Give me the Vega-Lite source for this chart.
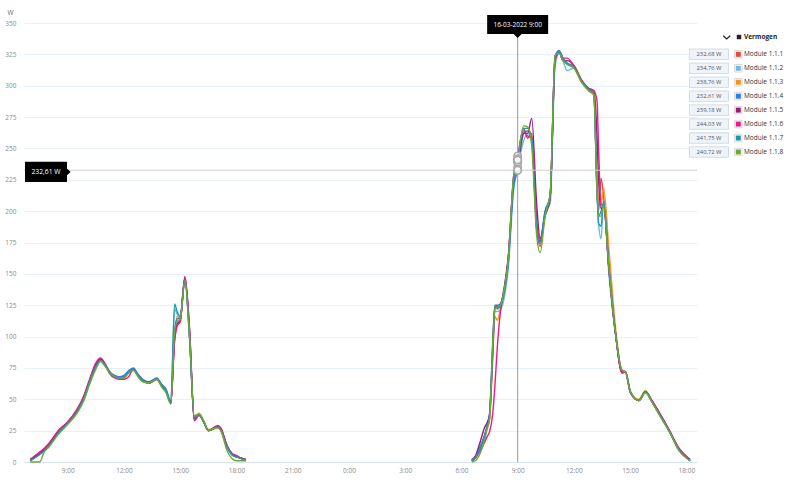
{
  "width": 673,
  "height": 439,
  "autosize": {"type": "none"},
  "padding": {"left": 24, "top": 23, "right": 103, "bottom": 21},
  "config": {"view": {"stroke": null}, "font": "Open Sans"},
  "resolve": {"scale": {"y": "independent"}, "axis": {"y": "independent"}},
  "layer": [
    {
      "layer": [
        {
          "data": {"values": [
            {"t":"2022-03-15T07:00","d":1,"m1":2,"m2":1,"m3":1,"m4":2,"m5":1,"m6":2,"m7":1,"m8":0},
            {"t":"2022-03-15T07:30","d":1,"m1":7,"m2":6,"m3":6,"m4":7,"m5":7,"m6":8,"m7":6,"m8":0},
            {"t":"2022-03-15T07:45","d":1,"m1":9,"m2":9,"m3":9,"m4":10,"m5":10,"m6":11,"m7":9,"m8":8},
            {"t":"2022-03-15T08:00","d":1,"m1":14,"m2":13,"m3":13,"m4":14,"m5":14,"m6":15,"m7":13,"m8":12},
            {"t":"2022-03-15T08:30","d":1,"m1":24,"m2":23,"m3":24,"m4":24,"m5":25,"m6":25,"m7":23,"m8":22},
            {"t":"2022-03-15T09:00","d":1,"m1":31,"m2":31,"m3":31,"m4":32,"m5":32,"m6":32,"m7":31,"m8":30},
            {"t":"2022-03-15T09:30","d":1,"m1":41,"m2":40,"m3":40,"m4":41,"m5":42,"m6":42,"m7":40,"m8":39},
            {"t":"2022-03-15T09:50","d":1,"m1":50,"m2":49,"m3":49,"m4":51,"m5":51,"m6":52,"m7":50,"m8":48},
            {"t":"2022-03-15T10:10","d":1,"m1":64,"m2":63,"m3":63,"m4":65,"m5":65,"m6":66,"m7":64,"m8":62},
            {"t":"2022-03-15T10:30","d":1,"m1":77,"m2":76,"m3":76,"m4":77,"m5":78,"m6":79,"m7":76,"m8":74},
            {"t":"2022-03-15T10:45","d":1,"m1":82,"m2":81,"m3":82,"m4":82,"m5":82,"m6":83,"m7":81,"m8":80},
            {"t":"2022-03-15T11:00","d":1,"m1":77,"m2":77,"m3":77,"m4":78,"m5":77,"m6":78,"m7":77,"m8":76},
            {"t":"2022-03-15T11:15","d":1,"m1":71,"m2":71,"m3":71,"m4":72,"m5":71,"m6":70,"m7":71,"m8":71},
            {"t":"2022-03-15T11:30","d":1,"m1":68,"m2":68,"m3":68,"m4":69,"m5":68,"m6":67,"m7":68,"m8":68},
            {"t":"2022-03-15T11:45","d":1,"m1":67,"m2":67,"m3":67,"m4":68,"m5":67,"m6":66,"m7":67,"m8":67},
            {"t":"2022-03-15T12:00","d":1,"m1":67,"m2":68,"m3":68,"m4":69,"m5":68,"m6":66,"m7":68,"m8":67},
            {"t":"2022-03-15T12:15","d":1,"m1":72,"m2":72,"m3":72,"m4":73,"m5":71,"m6":68,"m7":72,"m8":71},
            {"t":"2022-03-15T12:30","d":1,"m1":74,"m2":74,"m3":74,"m4":75,"m5":74,"m6":74,"m7":74,"m8":73},
            {"t":"2022-03-15T12:45","d":1,"m1":69,"m2":69,"m3":69,"m4":70,"m5":69,"m6":69,"m7":69,"m8":68},
            {"t":"2022-03-15T13:00","d":1,"m1":65,"m2":65,"m3":65,"m4":66,"m5":65,"m6":65,"m7":65,"m8":64},
            {"t":"2022-03-15T13:20","d":1,"m1":63,"m2":63,"m3":63,"m4":64,"m5":63,"m6":63,"m7":63,"m8":63},
            {"t":"2022-03-15T13:45","d":1,"m1":66,"m2":66,"m3":66,"m4":67,"m5":66,"m6":66,"m7":66,"m8":66},
            {"t":"2022-03-15T14:00","d":1,"m1":61,"m2":62,"m3":61,"m4":62,"m5":61,"m6":61,"m7":62,"m8":60},
            {"t":"2022-03-15T14:15","d":1,"m1":56,"m2":57,"m3":56,"m4":58,"m5":56,"m6":56,"m7":57,"m8":55},
            {"t":"2022-03-15T14:30","d":1,"m1":47,"m2":48,"m3":47,"m4":48,"m5":47,"m6":47,"m7":48,"m8":46},
            {"t":"2022-03-15T14:42","d":1,"m1":100,"m2":122,"m3":100,"m4":105,"m5":98,"m6":96,"m7":126,"m8":104},
            {"t":"2022-03-15T14:50","d":1,"m1":110,"m2":118,"m3":116,"m4":114,"m5":110,"m6":108,"m7":120,"m8":112},
            {"t":"2022-03-15T15:00","d":1,"m1":112,"m2":116,"m3":114,"m4":115,"m5":113,"m6":112,"m7":116,"m8":114},
            {"t":"2022-03-15T15:15","d":1,"m1":146,"m2":145,"m3":146,"m4":146,"m5":148,"m6":147,"m7":145,"m8":145},
            {"t":"2022-03-15T15:30","d":1,"m1":100,"m2":98,"m3":102,"m4":100,"m5":106,"m6":104,"m7":98,"m8":100},
            {"t":"2022-03-15T15:45","d":1,"m1":33,"m2":35,"m3":36,"m4":35,"m5":34,"m6":33,"m7":35,"m8":37},
            {"t":"2022-03-15T16:00","d":1,"m1":38,"m2":38,"m3":39,"m4":38,"m5":38,"m6":37,"m7":38,"m8":38},
            {"t":"2022-03-15T16:15","d":1,"m1":32,"m2":32,"m3":33,"m4":32,"m5":32,"m6":32,"m7":32,"m8":33},
            {"t":"2022-03-15T16:30","d":1,"m1":25,"m2":25,"m3":26,"m4":25,"m5":25,"m6":25,"m7":25,"m8":25},
            {"t":"2022-03-15T16:50","d":1,"m1":27,"m2":27,"m3":27,"m4":27,"m5":27,"m6":28,"m7":27,"m8":27},
            {"t":"2022-03-15T17:00","d":1,"m1":28,"m2":28,"m3":28,"m4":28,"m5":29,"m6":29,"m7":28,"m8":27},
            {"t":"2022-03-15T17:10","d":1,"m1":26,"m2":25,"m3":26,"m4":26,"m5":27,"m6":27,"m7":25,"m8":25},
            {"t":"2022-03-15T17:30","d":1,"m1":12,"m2":12,"m3":12,"m4":12,"m5":13,"m6":13,"m7":12,"m8":9},
            {"t":"2022-03-15T17:45","d":1,"m1":6,"m2":6,"m3":6,"m4":6,"m5":7,"m6":7,"m7":6,"m8":3},
            {"t":"2022-03-15T18:00","d":1,"m1":4,"m2":4,"m3":4,"m4":4,"m5":5,"m6":5,"m7":4,"m8":1},
            {"t":"2022-03-15T18:15","d":1,"m1":3,"m2":3,"m3":3,"m4":3,"m5":3,"m6":3,"m7":3,"m8":1},
            {"t":"2022-03-15T18:30","d":1,"m1":1,"m2":1,"m3":1,"m4":1,"m5":2,"m6":2,"m7":1,"m8":1},
            {"t":"2022-03-16T06:33","d":2,"m1":1,"m2":1,"m3":1,"m4":1,"m5":2,"m6":1,"m7":1,"m8":0},
            {"t":"2022-03-16T06:45","d":2,"m1":4,"m2":4,"m3":4,"m4":4,"m5":5,"m6":3,"m7":4,"m8":1},
            {"t":"2022-03-16T07:00","d":2,"m1":12,"m2":11,"m3":11,"m4":12,"m5":16,"m6":9,"m7":11,"m8":7},
            {"t":"2022-03-16T07:15","d":2,"m1":22,"m2":21,"m3":21,"m4":22,"m5":28,"m6":16,"m7":21,"m8":18},
            {"t":"2022-03-16T07:22","d":2,"m1":28,"m2":28,"m3":27,"m4":29,"m5":31,"m6":20,"m7":28,"m8":26},
            {"t":"2022-03-16T07:30","d":2,"m1":36,"m2":35,"m3":34,"m4":38,"m5":38,"m6":24,"m7":36,"m8":34},
            {"t":"2022-03-16T07:40","d":2,"m1":88,"m2":85,"m3":80,"m4":95,"m5":86,"m6":38,"m7":90,"m8":92},
            {"t":"2022-03-16T07:47","d":2,"m1":124,"m2":120,"m3":116,"m4":125,"m5":122,"m6":60,"m7":124,"m8":122},
            {"t":"2022-03-16T07:55","d":2,"m1":124,"m2":120,"m3":113,"m4":125,"m5":123,"m6":92,"m7":122,"m8":123},
            {"t":"2022-03-16T08:04","d":2,"m1":125,"m2":121,"m3":121,"m4":126,"m5":125,"m6":118,"m7":124,"m8":125},
            {"t":"2022-03-16T08:20","d":2,"m1":142,"m2":135,"m3":143,"m4":140,"m5":144,"m6":141,"m7":139,"m8":142},
            {"t":"2022-03-16T08:30","d":2,"m1":162,"m2":155,"m3":163,"m4":160,"m5":164,"m6":162,"m7":158,"m8":162},
            {"t":"2022-03-16T08:47","d":2,"m1":222,"m2":216,"m3":225,"m4":220,"m5":226,"m6":228,"m7":226,"m8":228},
            {"t":"2022-03-16T09:00","d":2,"m1":232.68,"m2":234.76,"m3":238.76,"m4":232.61,"m5":239.18,"m6":244.03,"m7":241.75,"m8":240.72},
            {"t":"2022-03-16T09:19","d":2,"m1":264,"m2":256,"m3":262,"m4":262,"m5":262,"m6":266,"m7":266,"m8":268},
            {"t":"2022-03-16T09:32","d":2,"m1":260,"m2":262,"m3":264,"m4":264,"m5":262,"m6":258,"m7":266,"m8":267},
            {"t":"2022-03-16T09:45","d":2,"m1":258,"m2":255,"m3":258,"m4":258,"m5":274,"m6":262,"m7":258,"m8":252},
            {"t":"2022-03-16T10:01","d":2,"m1":185,"m2":190,"m3":190,"m4":188,"m5":205,"m6":190,"m7":185,"m8":180},
            {"t":"2022-03-16T10:12","d":2,"m1":172,"m2":178,"m3":176,"m4":176,"m5":178,"m6":176,"m7":174,"m8":167},
            {"t":"2022-03-16T10:28","d":2,"m1":198,"m2":200,"m3":198,"m4":200,"m5":196,"m6":198,"m7":200,"m8":196},
            {"t":"2022-03-16T10:44","d":2,"m1":212,"m2":206,"m3":212,"m4":212,"m5":210,"m6":212,"m7":212,"m8":214},
            {"t":"2022-03-16T11:00","d":2,"m1":322,"m2":316,"m3":322,"m4":324,"m5":322,"m6":320,"m7":324,"m8":324},
            {"t":"2022-03-16T11:13","d":2,"m1":327,"m2":326,"m3":328,"m4":328,"m5":326,"m6":327,"m7":327,"m8":326},
            {"t":"2022-03-16T11:25","d":2,"m1":322,"m2":320,"m3":322,"m4":322,"m5":320,"m6":322,"m7":322,"m8":320},
            {"t":"2022-03-16T11:38","d":2,"m1":318,"m2":312,"m3":318,"m4":318,"m5":320,"m6":322,"m7":318,"m8":317},
            {"t":"2022-03-16T12:00","d":2,"m1":315,"m2":314,"m3":316,"m4":315,"m5":316,"m6":316,"m7":315,"m8":314},
            {"t":"2022-03-16T12:26","d":2,"m1":303,"m2":303,"m3":304,"m4":303,"m5":303,"m6":304,"m7":303,"m8":302},
            {"t":"2022-03-16T12:47","d":2,"m1":297,"m2":297,"m3":296,"m4":297,"m5":298,"m6":298,"m7":297,"m8":296},
            {"t":"2022-03-16T13:04","d":2,"m1":294,"m2":293,"m3":292,"m4":294,"m5":296,"m6":296,"m7":294,"m8":293},
            {"t":"2022-03-16T13:14","d":2,"m1":214,"m2":216,"m3":222,"m4":218,"m5":260,"m6":288,"m7":218,"m8":215},
            {"t":"2022-03-16T13:19","d":2,"m1":200,"m2":190,"m3":210,"m4":196,"m5":225,"m6":250,"m7":190,"m8":196},
            {"t":"2022-03-16T13:27","d":2,"m1":226,"m2":178,"m3":205,"m4":200,"m5":202,"m6":205,"m7":188,"m8":196},
            {"t":"2022-03-16T13:35","d":2,"m1":212,"m2":208,"m3":218,"m4":206,"m5":205,"m6":205,"m7":208,"m8":205},
            {"t":"2022-03-16T13:52","d":2,"m1":155,"m2":150,"m3":170,"m4":156,"m5":154,"m6":154,"m7":155,"m8":156},
            {"t":"2022-03-16T14:13","d":2,"m1":103,"m2":102,"m3":108,"m4":103,"m5":103,"m6":103,"m7":103,"m8":103},
            {"t":"2022-03-16T14:34","d":2,"m1":73,"m2":73,"m3":73,"m4":72,"m5":71,"m6":71,"m7":73,"m8":73},
            {"t":"2022-03-16T14:45","d":2,"m1":72,"m2":72,"m3":72,"m4":72,"m5":72,"m6":72,"m7":72,"m8":72},
            {"t":"2022-03-16T15:01","d":2,"m1":56,"m2":56,"m3":56,"m4":56,"m5":55,"m6":55,"m7":56,"m8":56},
            {"t":"2022-03-16T15:28","d":2,"m1":49,"m2":49,"m3":50,"m4":49,"m5":49,"m6":49,"m7":49,"m8":49},
            {"t":"2022-03-16T15:49","d":2,"m1":56,"m2":56,"m3":57,"m4":56,"m5":56,"m6":56,"m7":56,"m8":55},
            {"t":"2022-03-16T16:10","d":2,"m1":48,"m2":48,"m3":48,"m4":48,"m5":49,"m6":49,"m7":48,"m8":48},
            {"t":"2022-03-16T16:32","d":2,"m1":39,"m2":39,"m3":39,"m4":39,"m5":40,"m6":40,"m7":39,"m8":38},
            {"t":"2022-03-16T17:04","d":2,"m1":25,"m2":25,"m3":25,"m4":25,"m5":26,"m6":26,"m7":25,"m8":25},
            {"t":"2022-03-16T17:36","d":2,"m1":10,"m2":10,"m3":10,"m4":10,"m5":11,"m6":11,"m7":10,"m8":9},
            {"t":"2022-03-16T18:12","d":2,"m1":1,"m2":1,"m3":1,"m4":1,"m5":2,"m6":2,"m7":1,"m8":1}
          ]},
          "transform": [{"fold": ["m1","m2","m3","m4","m5","m6","m7","m8"], "as": ["k","v"]}],
          "mark": {"type": "line", "interpolate": "monotone", "strokeWidth": 1.4},
          "encoding": {
            "x": {
              "field": "t", "type": "temporal",
              "scale": {"domain": [{"year":2022,"month":3,"date":15,"hours":6,"minutes":40},{"year":2022,"month":3,"date":16,"hours":18,"minutes":34}]},
              "axis": {"title": null, "format": "%-H:%M", "grid": false, "ticks": false, "labelPadding": 5, "labelFontSize": 6.5, "labelColor": "#8a8a8a", "domainColor": "#d8e2ee"}
            },
            "y": {
              "field": "v", "type": "quantitative",
              "scale": {"domain": [0, 350], "nice": false},
              "axis": {"title": "W", "titleAngle": 0, "titleX": -14, "titleY": -8, "titleAlign": "center", "titleFontSize": 6.5, "titleFontWeight": "normal", "titleColor": "#666", "values": [0,25,50,75,100,125,150,175,200,225,250,275,300,325,350], "labelOverlap": false, "ticks": false, "domain": false, "labelPadding": 8, "labelFontSize": 6.5, "labelColor": "#8a8a8a", "gridColor": "#e9eff7"}
            },
            "color": {
              "field": "k", "type": "nominal",
              "scale": {"domain": ["m1","m2","m3","m4","m5","m6","m7","m8"], "range": ["#e8463a","#6cb8e6","#f7931e","#2b7de9","#9b1b7b","#ec1a85","#1a9bb2","#6aaa35"]},
              "legend": null
            },
            "detail": {"field": "d", "type": "nominal"}
          }
        },
        {
          "data": {"values": [{"v": 232.61}]},
          "mark": {"type": "rule", "color": "#cfcfcf", "strokeWidth": 1},
          "encoding": {"y": {"field": "v", "type": "quantitative", "axis": {"title": "W", "titleAngle": 0, "titleX": -14, "titleY": -8, "titleAlign": "center", "titleFontSize": 6.5, "titleFontWeight": "normal", "titleColor": "#666", "values": [0,25,50,75,100,125,150,175,200,225,250,275,300,325,350], "labelOverlap": false, "ticks": false, "domain": false, "labelPadding": 8, "labelFontSize": 6.5, "labelColor": "#8a8a8a", "gridColor": "#e9eff7"}}}
        },
        {
          "data": {"values": [{"t": "2022-03-16T09:00"}]},
          "mark": {"type": "rule", "color": "#9a9a9a", "strokeWidth": 1},
          "encoding": {"x": {"field": "t", "type": "temporal"}}
        },
        {
          "data": {"values": [
            {"t":"2022-03-16T09:00","v":232.68},{"t":"2022-03-16T09:00","v":234.76},{"t":"2022-03-16T09:00","v":238.76},{"t":"2022-03-16T09:00","v":232.61},
            {"t":"2022-03-16T09:00","v":239.18},{"t":"2022-03-16T09:00","v":244.03},{"t":"2022-03-16T09:00","v":241.75},{"t":"2022-03-16T09:00","v":240.72}
          ]},
          "mark": {"type": "point", "shape": "circle", "size": 55, "fill": "white", "fillOpacity": 0.7, "stroke": "#a8a8a8", "strokeWidth": 1.6, "opacity": 1},
          "encoding": {
            "x": {"field": "t", "type": "temporal"},
            "y": {"field": "v", "type": "quantitative", "axis": {"title": "W", "titleAngle": 0, "titleX": -14, "titleY": -8, "titleAlign": "center", "titleFontSize": 6.5, "titleFontWeight": "normal", "titleColor": "#666", "values": [0,25,50,75,100,125,150,175,200,225,250,275,300,325,350], "labelOverlap": false, "ticks": false, "domain": false, "labelPadding": 8, "labelFontSize": 6.5, "labelColor": "#8a8a8a", "gridColor": "#e9eff7"}}
          }
        },
        {
          "data": {"values": [{"t": "2022-03-16T09:00", "v": 350, "label": "16-03-2022 9:00"}]},
          "layer": [
            {
              "mark": {"type": "point", "shape": "M-1,-0.31H1V0.31H0.13L0,0.44L-0.13,0.31H-1Z", "size": 3721, "fill": "#000", "strokeOpacity": 0, "filled": true, "opacity": 1, "yOffset": 1.5},
              "encoding": {"x": {"field": "t", "type": "temporal"}, "y": {"field": "v", "type": "quantitative", "axis": {"title": "W", "titleAngle": 0, "titleX": -14, "titleY": -8, "titleAlign": "center", "titleFontSize": 6.5, "titleFontWeight": "normal", "titleColor": "#666", "values": [0,25,50,75,100,125,150,175,200,225,250,275,300,325,350], "labelOverlap": false, "ticks": false, "domain": false, "labelPadding": 8, "labelFontSize": 6.5, "labelColor": "#8a8a8a", "gridColor": "#e9eff7"}}}
            },
            {
              "mark": {"type": "text", "color": "white", "fontSize": 6.5, "align": "center", "baseline": "middle", "yOffset": 1.5},
              "encoding": {"x": {"field": "t", "type": "temporal"}, "y": {"field": "v", "type": "quantitative", "axis": {"title": "W", "titleAngle": 0, "titleX": -14, "titleY": -8, "titleAlign": "center", "titleFontSize": 6.5, "titleFontWeight": "normal", "titleColor": "#666", "values": [0,25,50,75,100,125,150,175,200,225,250,275,300,325,350], "labelOverlap": false, "ticks": false, "domain": false, "labelPadding": 8, "labelFontSize": 6.5, "labelColor": "#8a8a8a", "gridColor": "#e9eff7"}}, "text": {"field": "label"}}
            }
          ]
        },
        {
          "data": {"values": [{"t": "2022-03-15T06:40", "v": 232.61, "label": "232,61 W"}]},
          "layer": [
            {
              "mark": {"type": "point", "shape": "M-1,-0.48H1V-0.16L1.17,0L1,0.16V0.48H-1Z", "size": 1764, "fill": "#000", "strokeOpacity": 0, "filled": true, "opacity": 1, "xOffset": 22, "yOffset": 1.7},
              "encoding": {"x": {"field": "t", "type": "temporal"}, "y": {"field": "v", "type": "quantitative", "axis": {"title": "W", "titleAngle": 0, "titleX": -14, "titleY": -8, "titleAlign": "center", "titleFontSize": 6.5, "titleFontWeight": "normal", "titleColor": "#666", "values": [0,25,50,75,100,125,150,175,200,225,250,275,300,325,350], "labelOverlap": false, "ticks": false, "domain": false, "labelPadding": 8, "labelFontSize": 6.5, "labelColor": "#8a8a8a", "gridColor": "#e9eff7"}}}
            },
            {
              "mark": {"type": "text", "color": "white", "fontSize": 6.8, "align": "center", "baseline": "middle", "xOffset": 22, "yOffset": 1.7},
              "encoding": {"x": {"field": "t", "type": "temporal"}, "y": {"field": "v", "type": "quantitative", "axis": {"title": "W", "titleAngle": 0, "titleX": -14, "titleY": -8, "titleAlign": "center", "titleFontSize": 6.5, "titleFontWeight": "normal", "titleColor": "#666", "values": [0,25,50,75,100,125,150,175,200,225,250,275,300,325,350], "labelOverlap": false, "ticks": false, "domain": false, "labelPadding": 8, "labelFontSize": 6.5, "labelColor": "#8a8a8a", "gridColor": "#e9eff7"}}, "text": {"field": "label"}}
            }
          ]
        }
      ]
    },
    {
      "data": {"values": [
        {"k":"m1","name":"Module 1.1.1","label":"232,68 W"},
        {"k":"m2","name":"Module 1.1.2","label":"234,76 W"},
        {"k":"m3","name":"Module 1.1.3","label":"238,76 W"},
        {"k":"m4","name":"Module 1.1.4","label":"232,61 W"},
        {"k":"m5","name":"Module 1.1.5","label":"239,18 W"},
        {"k":"m6","name":"Module 1.1.6","label":"244,03 W"},
        {"k":"m7","name":"Module 1.1.7","label":"241,75 W"},
        {"k":"m8","name":"Module 1.1.8","label":"240,72 W"}
      ]},
      "layer": [
        {
          "mark": {"type": "point", "shape": "M-1,-0.27H1V0.27H-1Z", "size": 1521, "fill": "#eef4fa", "stroke": "#c9d6e3", "strokeWidth": 0.8, "opacity": 1, "xOffset": 348.5},
          "encoding": {
            "y": {"field": "k", "type": "nominal", "scale": {"type": "point", "padding": 0, "domain": ["m1","m2","m3","m4","m5","m6","m7","m8"], "range": [31.3, 129]}, "axis": null}
          }
        },
        {
          "mark": {"type": "text", "fontSize": 5.8, "color": "#555", "align": "center", "baseline": "middle", "xOffset": 348.5},
          "encoding": {
            "y": {"field": "k", "type": "nominal"},
            "text": {"field": "label"}
          }
        },
        {
          "mark": {"type": "point", "shape": "square", "size": 56, "fill": "white", "stroke": "#d0d0d0", "strokeWidth": 0.8, "opacity": 1, "xOffset": 377.8},
          "encoding": {
            "y": {"field": "k", "type": "nominal"}
          }
        },
        {
          "mark": {"type": "point", "shape": "square", "size": 25, "filled": true, "opacity": 1, "xOffset": 377.8},
          "encoding": {
            "y": {"field": "k", "type": "nominal"},
            "color": {"field": "k", "type": "nominal", "legend": null}
          }
        },
        {
          "mark": {"type": "text", "fontSize": 6.5, "color": "#333", "align": "left", "baseline": "middle", "xOffset": 383.5},
          "encoding": {
            "y": {"field": "k", "type": "nominal"},
            "text": {"field": "name"}
          }
        },
        {
          "data": {"values": [{"k": "m1", "label": "Vermogen"}]},
          "layer": [
            {
              "mark": {"type": "point", "shape": "M-1,-0.45L0,0.45L1,-0.45", "size": 49, "filled": false, "stroke": "#222", "strokeWidth": 1.3, "opacity": 1, "xOffset": 366.2, "yOffset": -17},
              "encoding": {"y": {"field": "k", "type": "nominal"}}
            },
            {
              "mark": {"type": "point", "shape": "square", "size": 20, "filled": true, "color": "#222", "opacity": 1, "xOffset": 378.5, "yOffset": -17.3},
              "encoding": {"y": {"field": "k", "type": "nominal"}}
            },
            {
              "mark": {"type": "text", "fontSize": 6.5, "fontWeight": "bold", "color": "#222", "align": "left", "baseline": "middle", "xOffset": 383.5, "yOffset": -17},
              "encoding": {"y": {"field": "k", "type": "nominal"}, "text": {"field": "label"}}
            }
          ]
        }
      ]
    }
  ]
}
